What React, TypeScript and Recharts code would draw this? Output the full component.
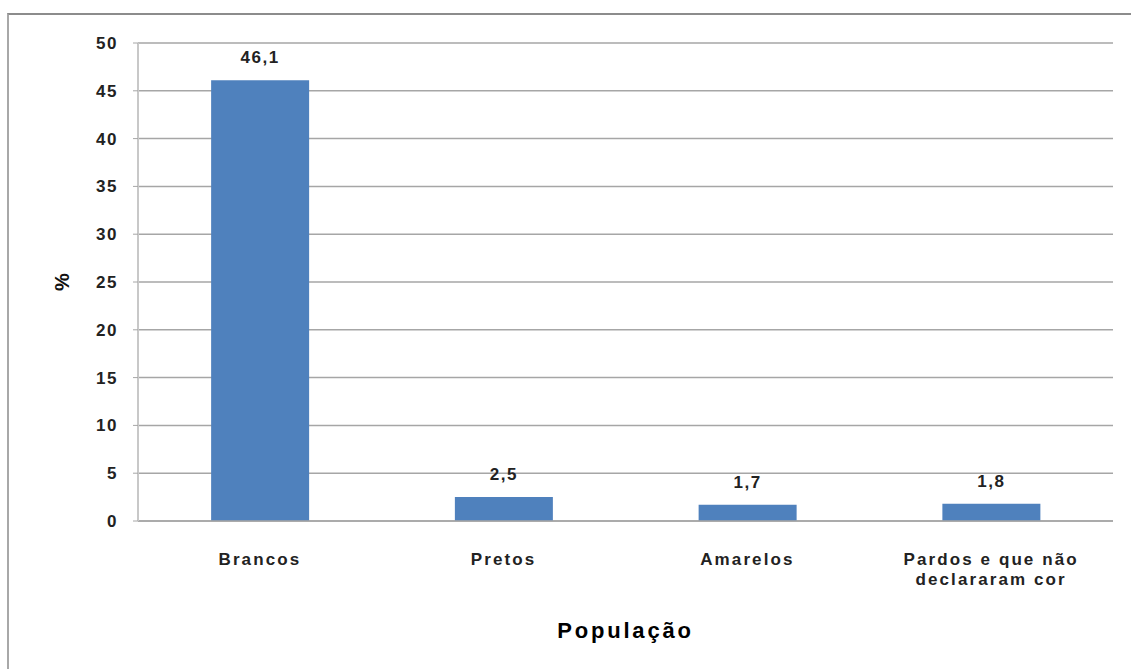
import { BarChart, Bar, XAxis, YAxis, CartesianGrid, LabelList, Label, Text } from "recharts";

// Distribuição da população (%)
const categories = ["Brancos", "Pretos", "Amarelos", "Pardos e que não declararam cor"];
const percentages = [46.1, 2.5, 1.7, 1.8];
const yTicks = [0, 5, 10, 15, 20, 25, 30, 35, 40, 45, 50];

const data = categories.map((name, i) => ({ name, value: percentages[i] }));

const FONT = "'Liberation Sans', Arial, sans-serif";
const textStyle = { fontFamily: FONT, fontSize: 17, fontWeight: "bold", fill: "#222", letterSpacing: 1.6 };

function CategoryTick(props: any) {
  const { x, y, payload } = props;
  return (
    <Text
      x={x}
      y={y + 24}
      width={155}
      textAnchor="middle"
      verticalAnchor="start"
      lineHeight={20}
      {...textStyle}
      letterSpacing={2.1}
    >
      {payload.value}
    </Text>
  );
}

export default function App() {
  return (
    <div style={{ position: "absolute", left: 0, top: 0, width: 1131, height: 669, background: "#fff" }}>
      <div
        style={{
          position: "absolute",
          left: 7,
          top: 13,
          width: 1124,
          height: 656,
          borderTop: "2px solid #8c8c8c",
          borderLeft: "2px solid #a8a8a8",
        }}
      />
      <div style={{ position: "absolute", left: 0, top: 0 }}>
        <BarChart
          width={1131}
          height={669}
          data={data}
          margin={{ top: 43, right: 18, bottom: 0, left: 88 }}
          barCategoryGap="30%"
        >
          <CartesianGrid vertical={false} stroke="#a6a6a6" strokeWidth={1.5} />
          <XAxis
            dataKey="name"
            height={148}
            axisLine={{ stroke: "#a6a6a6", strokeWidth: 1.5 }}
            tickLine={false}
            tick={<CategoryTick />}
            interval={0}
          >
            <Label
              value="População"
              position="insideBottom"
              offset={31}
              fontFamily={FONT}
              fontSize={22}
              fontWeight="bold"
              letterSpacing={2.8}
              fill="#000"
            />
          </XAxis>
          <YAxis
            width={50}
            domain={[0, 50]}
            ticks={yTicks}
            interval={0}
            axisLine={{ stroke: "#c8c8c8", strokeWidth: 2 }}
            tickLine={{ stroke: "#a6a6a6" }}
            tickSize={5}
            tickMargin={15}
            tick={textStyle}
          >
            <Label
              content={(p: any) => {
                const vb = p.viewBox;
                const cx = vb.x - 26;
                const cy = vb.y + vb.height / 2;
                return (
                  <text
                    x={cx}
                    y={cy}
                    transform={`rotate(-90 ${cx} ${cy})`}
                    textAnchor="middle"
                    dominantBaseline="central"
                    fontFamily={FONT}
                    fontSize={20}
                    fontWeight="bold"
                    fill="#111"
                  >
                    %
                  </text>
                );
              }}
            />
          </YAxis>
          <Bar dataKey="value" fill="#4f81bd" isAnimationActive={false}>
            <LabelList
              dataKey="value"
              position="top"
              offset={17}
              formatter={(v: any) => String(v).replace(".", ",")}
              style={textStyle}
            />
          </Bar>
        </BarChart>
      </div>
    </div>
  );
}
